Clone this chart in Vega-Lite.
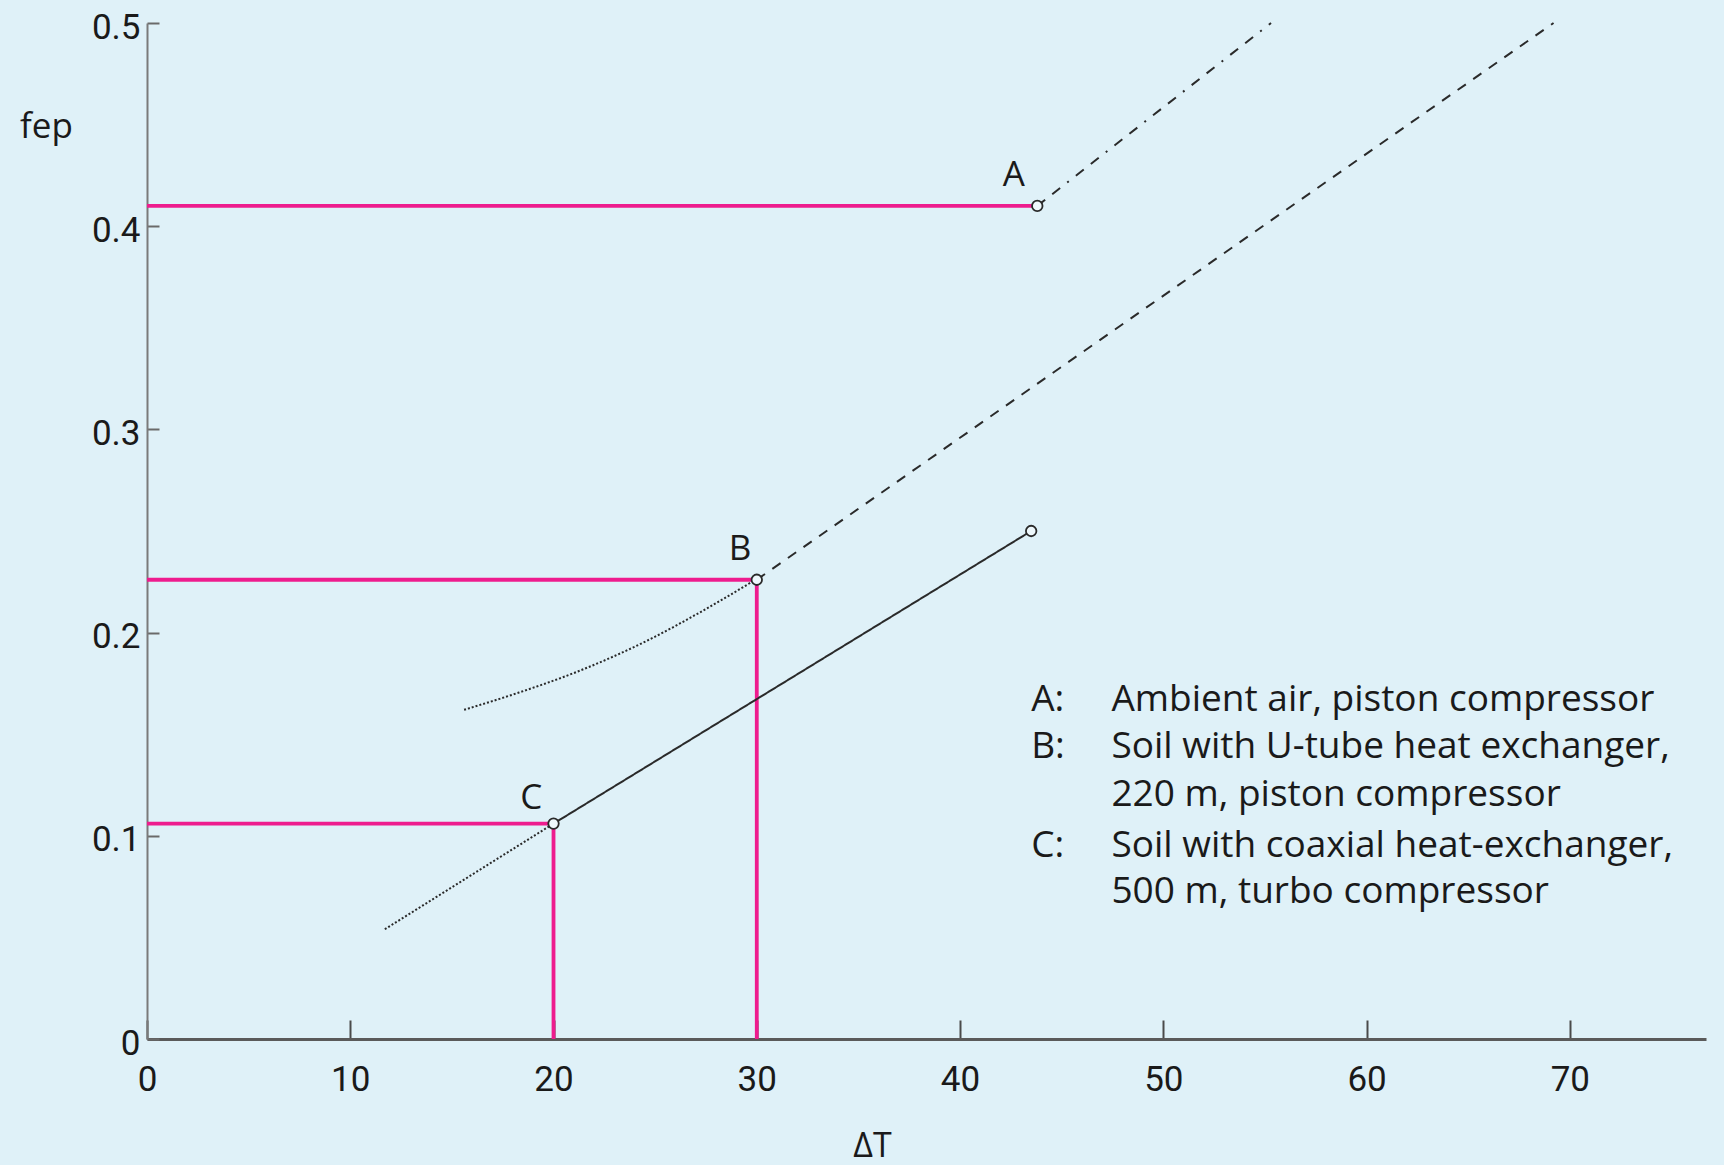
{
  "$schema": "https://vega.github.io/schema/vega-lite/v6.json",
  "width": 1559,
  "height": 1016,
  "autosize": {"type": "none"},
  "padding": {"left": 147, "top": 23, "right": 18, "bottom": 126},
  "background": "#dff1f8",
  "config": {
    "view": {"stroke": null},
    "font": "Roboto",
    "text": {"font": "Roboto", "color": "#1a1a1a"}
  },
  "datasets": {
    "pink": [
      {"x1": 0, "x2": 43.8, "y1": 0.41, "y2": 0.41},
      {"x1": 0, "x2": 30, "y1": 0.226, "y2": 0.226},
      {"x1": 30, "x2": 30, "y1": 0, "y2": 0.226},
      {"x1": 0, "x2": 20, "y1": 0.106, "y2": 0.106},
      {"x1": 20, "x2": 20, "y1": 0, "y2": 0.106}
    ],
    "curves": [
      {"series": "A extension", "x": 43.8, "y": 0.41},
      {"series": "A extension", "x": 55.3, "y": 0.5},
      {"series": "B extension", "x": 30, "y": 0.226},
      {"series": "B extension", "x": 69.2, "y": 0.5},
      {"series": "B low", "x": 15.6, "y": 0.162},
      {"series": "B low", "x": 18.3, "y": 0.1705},
      {"series": "B low", "x": 21.1, "y": 0.1805},
      {"series": "B low", "x": 24.6, "y": 0.196},
      {"series": "B low", "x": 27.3, "y": 0.2105},
      {"series": "B low", "x": 30, "y": 0.2264},
      {"series": "C line", "x": 20, "y": 0.106},
      {"series": "C line", "x": 43.5, "y": 0.25},
      {"series": "C low", "x": 11.7, "y": 0.054},
      {"series": "C low", "x": 20, "y": 0.106}
    ],
    "points": [
      {"x": 43.8, "y": 0.41},
      {"x": 30, "y": 0.226},
      {"x": 20, "y": 0.106},
      {"x": 43.5, "y": 0.25}
    ],
    "letters": [
      {"x": 42.64, "y": 0.4253, "label": "A"},
      {"x": 29.18, "y": 0.241, "label": "B"},
      {"x": 18.91, "y": 0.1184, "label": "C"}
    ],
    "legend": [
      {"x": 43.5, "y": 0.1667, "label": "A:"},
      {"x": 43.5, "y": 0.1438, "label": "B:"},
      {"x": 43.5, "y": 0.0952, "label": "C:"},
      {"x": 47.45, "y": 0.1667, "label": "Ambient air, piston compressor"},
      {"x": 47.45, "y": 0.1438, "label": "Soil with U-tube heat exchanger,"},
      {"x": 47.45, "y": 0.1203, "label": "220 m, piston compressor"},
      {"x": 47.45, "y": 0.0952, "label": "Soil with coaxial heat-exchanger,"},
      {"x": 47.45, "y": 0.0723, "label": "500 m, turbo compressor"}
    ]
  },
  "layer": [
    {
      "data": {"name": "pink"},
      "mark": {"type": "rule", "color": "#ee1c8e", "strokeWidth": 3.8},
      "encoding": {
        "x": {
          "field": "x1", "type": "quantitative",
          "scale": {"domain": [0, 76.7], "nice": false, "zero": false},
          "axis": {
            "values": [0, 10, 20, 30, 40, 50, 60, 70],
            "title": "ΔT",
            "titleFont": "Open Sans", "titleFontSize": 34, "titleFontWeight": "normal", "titleColor": "#1a1a1a",
            "titleAnchor": "start", "titleAlign": "center", "titleBaseline": "alphabetic",
            "titleX": 725, "titleY": 117,
            "grid": false,
            "domainColor": "#5a5a5a", "domainWidth": 3,
            "tickColor": "#4a4a4a", "tickWidth": 2, "tickSize": -19,
            "labelFont": "Roboto", "labelFontSize": 35, "labelColor": "#1a1a1a",
            "labelPadding": 42, "labelBaseline": "top", "labelFlush": false
          }
        },
        "x2": {"field": "x2"},
        "y": {
          "field": "y1", "type": "quantitative",
          "scale": {"domain": [0, 0.5], "nice": false},
          "axis": {
            "values": [0, 0.1, 0.2, 0.3, 0.4, 0.5],
            "format": ".1~f",
            "title": "fep",
            "titleFont": "Open Sans", "titleFontSize": 35, "titleFontWeight": "normal", "titleColor": "#1a1a1a",
            "titleAngle": 0, "titleAlign": "center", "titleBaseline": "alphabetic",
            "titleX": -101, "titleY": 114,
            "grid": false,
            "domainColor": "#7a7a7a", "domainWidth": 2,
            "tickColor": "#6a6a6a", "tickWidth": 2, "tickSize": -12,
            "labelFont": "Roboto", "labelFontSize": 35, "labelColor": "#1a1a1a",
            "labelPadding": 19, "labelOffset": 4, "labelFlush": false
          }
        },
        "y2": {"field": "y2"}
      }
    },
    {
      "data": {"name": "curves"},
      "mark": {"type": "line", "color": "#2a2a2a", "strokeWidth": 2, "interpolate": "monotone"},
      "encoding": {
        "x": {"field": "x", "type": "quantitative"},
        "y": {"field": "y", "type": "quantitative"},
        "detail": {"field": "series"},
        "strokeDash": {
          "field": "series", "type": "nominal",
          "scale": {
            "domain": ["A extension", "B extension", "B low", "C line", "C low"],
            "range": [[10, 9, 10, 9, 2, 9], [10, 9], [2, 2], [1, 0], [2, 2]]
          },
          "legend": null
        }
      }
    },
    {
      "data": {"name": "points"},
      "mark": {"type": "point", "shape": "circle", "filled": true, "fill": "#eef8fc", "stroke": "#2a2a2a", "strokeWidth": 1.8, "size": 110, "opacity": 1},
      "encoding": {
        "x": {"field": "x", "type": "quantitative"},
        "y": {"field": "y", "type": "quantitative"}
      }
    },
    {
      "data": {"name": "letters"},
      "mark": {"type": "text", "fontSize": 35, "align": "center", "baseline": "middle", "font": "Open Sans", "color": "#1a1a1a"},
      "encoding": {
        "x": {"field": "x", "type": "quantitative"},
        "y": {"field": "y", "type": "quantitative"},
        "text": {"field": "label"}
      }
    },
    {
      "data": {"name": "legend"},
      "mark": {"type": "text", "fontSize": 37, "align": "left", "baseline": "middle", "font": "Open Sans", "color": "#1a1a1a"},
      "encoding": {
        "x": {"field": "x", "type": "quantitative"},
        "y": {"field": "y", "type": "quantitative"},
        "text": {"field": "label"}
      }
    }
  ]
}
